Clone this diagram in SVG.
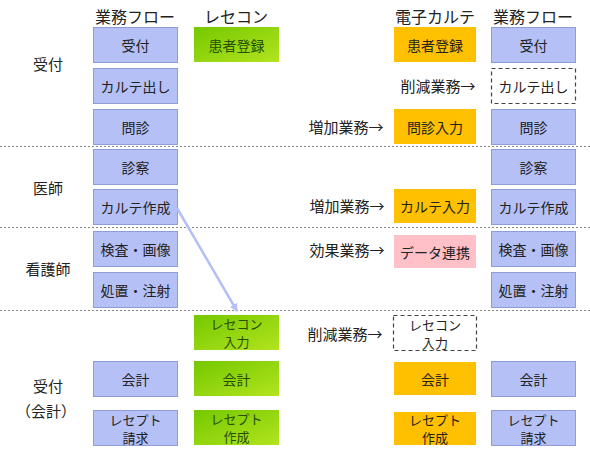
<svg xmlns="http://www.w3.org/2000/svg" width="590" height="453" viewBox="0 0 590 453">
<defs>
<linearGradient id="g" x1="0" y1="0" x2="1" y2="1">
<stop offset="0" stop-color="#74c800"/>
<stop offset="1" stop-color="#b2e41e"/>
</linearGradient>
<marker id="ah" markerWidth="8" markerHeight="8" refX="7" refY="4" orient="auto" markerUnits="userSpaceOnUse">
<path d="M0,0 L8,4 L0,8 Z" fill="#b4c0f5"/>
</marker>
<style>
text{font-family:"Noto Sans CJK JP","Noto Sans CJK SC",sans-serif;text-anchor:middle;dominant-baseline:central;fill:#222}
.h{font-size:16px}
.t{font-size:14px}
.t2{font-size:13px}
.l{font-size:15px}
.b{fill:#b4c0f6;stroke:#8f9dd6;stroke-width:1}
.gr{fill:url(#g)}
.o{fill:#ffc000}
.p{fill:#ffc0c8}
.d{fill:#fff;stroke:#444;stroke-width:1.2;stroke-dasharray:4,3}
.gt{fill:#264d00}
.sep{stroke:#888;stroke-width:1;stroke-dasharray:2,2}
</style>
</defs>
<g id="separators">
<line class="sep" x1="0" y1="146.5" x2="590" y2="146.5"/>
<line class="sep" x1="0" y1="227.5" x2="590" y2="227.5"/>
<line class="sep" x1="0" y1="310.5" x2="590" y2="310.5"/>
</g>
<g id="headers">
<text class="h" x="135" y="16">業務フロー</text>
<text class="h" x="236" y="16">レセコン</text>
<text class="h" x="435" y="16">電子カルテ</text>
<text class="h" x="533" y="16">業務フロー</text>
</g>
<g id="roles">
<text class="l" x="48" y="63">受付</text>
<text class="l" x="48" y="187">医師</text>
<text class="l" x="48" y="268">看護師</text>
<text class="l" x="48" y="385">受付</text>
<text class="l" x="46" y="410">（会計）</text>
</g>
<g id="left-flow">
<g id="l-uketsuke"><rect class="b" x="93.5" y="27.5" width="84" height="35"/><text class="t" x="135.5" y="45">受付</text></g>
<g id="l-karute-dashi"><rect class="b" x="93.5" y="68.5" width="84" height="35"/><text class="t" x="135.5" y="86">カルテ出し</text></g>
<g id="l-monshin"><rect class="b" x="93.5" y="109.5" width="84" height="35"/><text class="t" x="135.5" y="127">問診</text></g>
<g id="l-shinsatsu"><rect class="b" x="93.5" y="149.5" width="84" height="35"/><text class="t" x="135.5" y="167">診察</text></g>
<g id="l-karute-sakusei"><rect class="b" x="93.5" y="189.5" width="84" height="35"/><text class="t" x="135.5" y="207">カルテ作成</text></g>
<g id="l-kensa"><rect class="b" x="93.5" y="231.5" width="84" height="35"/><text class="t" x="135.5" y="249">検査・画像</text></g>
<g id="l-shochi"><rect class="b" x="93.5" y="272.5" width="84" height="35"/><text class="t" x="135.5" y="290">処置・注射</text></g>
<g id="l-kaikei"><rect class="b" x="93.5" y="361.5" width="84" height="35"/><text class="t" x="135.5" y="379">会計</text></g>
<g id="l-receipt"><rect class="b" x="93.5" y="410.5" width="84" height="35"/><text class="t2" x="135.5" y="419">レセプト</text><text class="t2" x="135.5" y="437">請求</text></g>
</g>
<g id="rececon">
<g id="r-kanja"><rect class="gr" x="194" y="27" width="85" height="35"/><text class="t gt" x="236.5" y="44.5">患者登録</text></g>
<g id="r-input"><rect class="gr" x="194" y="315" width="85" height="35"/><text class="t2 gt" x="236.5" y="323.5">レセコン</text><text class="t2 gt" x="236.5" y="341.5">入力</text></g>
<g id="r-kaikei"><rect class="gr" x="194" y="361" width="85" height="35"/><text class="t gt" x="236.5" y="378.5">会計</text></g>
<g id="r-receipt"><rect class="gr" x="194" y="410" width="85" height="35"/><text class="t2 gt" x="236.5" y="418.5">レセプト</text><text class="t2 gt" x="236.5" y="436.5">作成</text></g>
</g>
<g id="emr">
<g id="e-kanja"><rect class="o" x="394" y="27" width="82" height="35"/><text class="t" x="435" y="44.5">患者登録</text></g>
<g id="e-monshin"><rect class="o" x="394" y="109" width="82" height="35"/><text class="t" x="435" y="126.5">問診入力</text></g>
<g id="e-karute"><rect class="o" x="394" y="189" width="82" height="34"/><text class="t" x="435" y="206">カルテ入力</text></g>
<g id="e-data"><rect class="p" x="394" y="235" width="82" height="33"/><text class="t" x="435" y="251.5">データ連携</text></g>
<g id="e-rececon"><rect class="d" x="393.5" y="315.5" width="83" height="35"/><text class="t2" x="435" y="324">レセコン</text><text class="t2" x="435" y="342">入力</text></g>
<g id="e-kaikei"><rect class="o" x="394" y="362" width="82" height="33"/><text class="t" x="435" y="378.5">会計</text></g>
<g id="e-receipt"><rect class="o" x="394" y="412" width="82" height="33"/><text class="t2" x="435" y="419.5">レセプト</text><text class="t2" x="435" y="437.5">作成</text></g>
</g>
<g id="right-flow">
<g id="rf-uketsuke"><rect class="b" x="491.5" y="27.5" width="84" height="35"/><text class="t" x="533.5" y="45">受付</text></g>
<g id="rf-karute-dashi"><rect class="d" x="491.5" y="68.5" width="84" height="35"/><text class="t" x="533.5" y="86">カルテ出し</text></g>
<g id="rf-monshin"><rect class="b" x="491.5" y="109.5" width="84" height="35"/><text class="t" x="533.5" y="127">問診</text></g>
<g id="rf-shinsatsu"><rect class="b" x="491.5" y="149.5" width="84" height="35"/><text class="t" x="533.5" y="167">診察</text></g>
<g id="rf-karute-sakusei"><rect class="b" x="491.5" y="189.5" width="84" height="35"/><text class="t" x="533.5" y="207">カルテ作成</text></g>
<g id="rf-kensa"><rect class="b" x="491.5" y="231.5" width="84" height="35"/><text class="t" x="533.5" y="249">検査・画像</text></g>
<g id="rf-shochi"><rect class="b" x="491.5" y="272.5" width="84" height="35"/><text class="t" x="533.5" y="290">処置・注射</text></g>
<g id="rf-kaikei"><rect class="b" x="491.5" y="361.5" width="84" height="35"/><text class="t" x="533.5" y="379">会計</text></g>
<g id="rf-receipt"><rect class="b" x="491.5" y="410.5" width="84" height="35"/><text class="t2" x="533.5" y="419">レセプト</text><text class="t2" x="533.5" y="437">請求</text></g>
</g>
<g id="change-labels">
<text class="l" x="438" y="85">削減業務→</text>
<text class="l" x="346" y="126">増加業務→</text>
<text class="l" x="347" y="205">増加業務→</text>
<text class="l" x="347" y="249">効果業務→</text>
<text class="l" x="345" y="333">削減業務→</text>
</g>
<g id="connectors">
<line x1="177" y1="208" x2="237" y2="311" stroke="#b4c0f5" stroke-width="2.5" marker-end="url(#ah)"/>
</g>
</svg>
